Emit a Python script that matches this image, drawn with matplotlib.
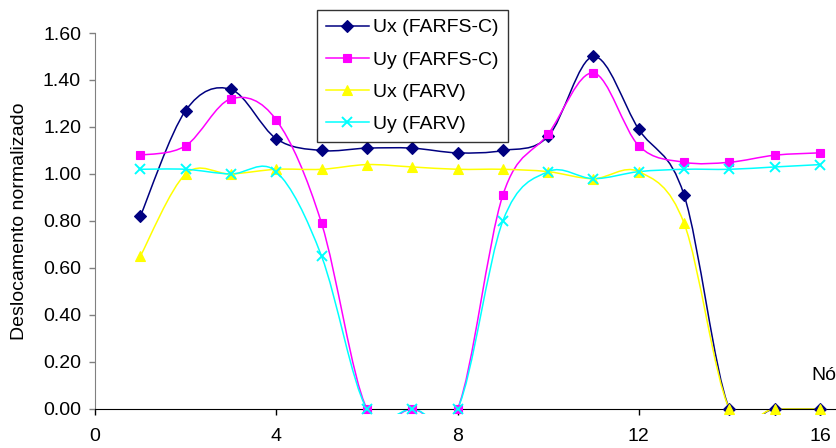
import numpy as np
import matplotlib.pyplot as plt
from matplotlib.path import Path
from matplotlib.patches import PathPatch
from matplotlib.lines import Line2D

plt.rcParams["font.family"] = ["Liberation Sans", "DejaVu Sans"]

# Data
nodes = [1, 2, 3, 4, 5, 6, 7, 8, 9, 10, 11, 12, 13, 14, 15, 16]
ux_farfs = [0.82, 1.27, 1.36, 1.15, 1.10, 1.11, 1.11, 1.09,
            1.10, 1.16, 1.50, 1.19, 0.91, 0.00, 0.00, 0.00]
uy_farfs = [1.08, 1.12, 1.32, 1.23, 0.79, 0.00, 0.00, 0.00,
            0.91, 1.17, 1.43, 1.12, 1.05, 1.05, 1.08, 1.09]
ux_farv = [0.65, 1.00, 1.00, 1.02, 1.02, 1.04, 1.03, 1.02,
           1.02, 1.01, 0.98, 1.01, 0.79, 0.00, 0.00, 0.00]
uy_farv = [1.02, 1.02, 1.00, 1.01, 0.65, 0.00, 0.00, 0.00,
           0.80, 1.01, 0.98, 1.01, 1.02, 1.02, 1.03, 1.04]

labels = ["Ux (FARFS-C)", "Uy (FARFS-C)", "Ux (FARV)", "Uy (FARV)"]
colors = ["#000080", "#FF00FF", "#FFFF00", "#00FFFF"]
markers = ["D", "s", "^", "x"]
msizes = [6.3, 6.0, 7.5, 7.5]
yticks = [0.0, 0.2, 0.4, 0.6, 0.8, 1.0, 1.2, 1.4, 1.6]
xticks = [0, 4, 8, 12, 16]


def smooth_path(x, y):
    """ Excel-like smoothed line as cubic Bezier segments """
    P = np.column_stack([x, y]).astype(float)
    n = len(P)
    verts = [P[0]]
    codes = [Path.MOVETO]
    for i in range(n - 1):
        prev = P[i - 1] if i > 0 else P[i]
        nxt = P[i + 2] if i + 2 < n else P[i + 1]
        c1 = P[i] + (P[i + 1] - prev) / 6.0
        c2 = P[i + 1] - (nxt - P[i]) / 6.0
        verts += [c1, c2, P[i + 1]]
        codes += [Path.CURVE4] * 3
    return Path(verts, codes)


W, H = 837, 448
fig = plt.figure(figsize=(W / 100, H / 100), dpi=100)
ax = fig.add_axes([95 / W, 1 - 414 / H, 740 / W, 381 / H])

series = [ux_farfs, uy_farfs, ux_farv, uy_farv]
for vals, c, m, ms in zip(series, colors, markers, msizes):
    patch = PathPatch(smooth_path(nodes, vals), facecolor="none",
                      edgecolor=c, linewidth=1.1)
    ax.add_patch(patch)
    ax.plot(nodes, vals, linestyle="none", marker=m, markersize=ms,
            color=c, markeredgecolor=c, markeredgewidth=1.4 if m == "x" else 0.8,
            clip_on=False, zorder=3)

ax.set_xlim(0, 16.33)
ax.set_ylim(-0.0213, 1.6)

for s in ["top", "right"]:
    ax.spines[s].set_visible(False)
ax.spines["bottom"].set_position(("data", 0))
ax.spines["bottom"].set_color("black")
ax.spines["left"].set_color("#808080")
ax.spines["left"].set_bounds(0, 1.6)

ax.set_xticks(xticks)
ax.set_yticks(yticks)
ax.set_yticklabels([f"{v:.2f}" for v in yticks])
ax.tick_params(axis="x", direction="out", length=4, width=1, color="black",
               labelsize=14, pad=10)
ax.tick_params(axis="y", direction="out", length=4, width=1, color="#808080",
               labelsize=14, pad=6)

fig.text(20 / W, 1 - 221 / H, "Deslocamento normalizado", rotation=90,
         ha="center", va="center", fontsize=14)
fig.text(824 / W, 1 - 375 / H, "Nó", ha="center", va="center", fontsize=14)

handles = [Line2D([], [], color=c, marker=m, markersize=ms, linewidth=1.1,
                  markeredgewidth=1.4 if m == "x" else 0.8)
           for c, m, ms in zip(colors, markers, msizes)]
leg = fig.legend(handles, labels, loc="upper left",
                 bbox_to_anchor=(317 / W, 1 - 10 / H), fontsize=14,
                 frameon=True, fancybox=False, borderaxespad=0,
                 handlelength=2.2, handletextpad=0.25, labelspacing=0.75,
                 borderpad=0.45)
leg.get_frame().set_edgecolor("black")
leg.get_frame().set_linewidth(1.0)

fig.savefig("out.png", dpi=100)
